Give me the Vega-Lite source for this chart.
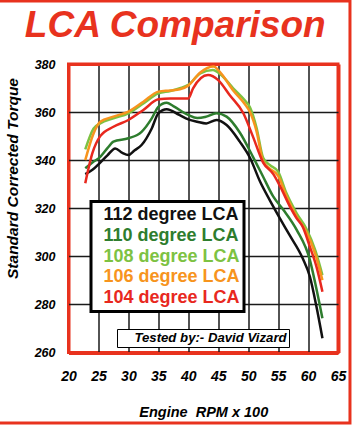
{
  "$schema": "https://vega.github.io/schema/vega-lite/v6.json",
  "width": 269.5,
  "height": 288.5,
  "autosize": "none",
  "padding": {"left": 68.5, "top": 64, "right": 16, "bottom": 72.5},
  "background": "white",
  "title": {
    "text": "LCA Comparison",
    "font": "Liberation Sans",
    "fontSize": 37,
    "fontWeight": "bold",
    "fontStyle": "italic",
    "color": "#e8321e",
    "anchor": "middle",
    "frame": "group",
    "dx": -28,
    "dy": 37,
    "baseline": "alphabetic",
    "offset": -37.5
  },
  "config": {
    "font": "Liberation Sans",
    "view": {"stroke": "#e8321e", "strokeWidth": 3},
    "axisX": {"labelOverlap": false, "labelFlush": false},
    "axisY": {"labelOverlap": false, "labelFlush": false}
  },
  "datasets": {
    "curves": [
      {"lca": "112 degree LCA", "rpm": 22.8, "torque": 334.2},
      {"lca": "112 degree LCA", "rpm": 24, "torque": 336},
      {"lca": "112 degree LCA", "rpm": 25.3, "torque": 339},
      {"lca": "112 degree LCA", "rpm": 26.5, "torque": 342},
      {"lca": "112 degree LCA", "rpm": 27.8, "torque": 344.9},
      {"lca": "112 degree LCA", "rpm": 29, "torque": 343},
      {"lca": "112 degree LCA", "rpm": 30, "torque": 342.1},
      {"lca": "112 degree LCA", "rpm": 31, "torque": 344},
      {"lca": "112 degree LCA", "rpm": 32.2, "torque": 346.3},
      {"lca": "112 degree LCA", "rpm": 33.9, "torque": 353.2},
      {"lca": "112 degree LCA", "rpm": 35, "torque": 359.5},
      {"lca": "112 degree LCA", "rpm": 36.4, "torque": 361.2},
      {"lca": "112 degree LCA", "rpm": 38.5, "torque": 358.8},
      {"lca": "112 degree LCA", "rpm": 40, "torque": 357},
      {"lca": "112 degree LCA", "rpm": 41.5, "torque": 356},
      {"lca": "112 degree LCA", "rpm": 43, "torque": 355.3},
      {"lca": "112 degree LCA", "rpm": 44.7, "torque": 356.7},
      {"lca": "112 degree LCA", "rpm": 46.4, "torque": 354.6},
      {"lca": "112 degree LCA", "rpm": 48.6, "torque": 347.7},
      {"lca": "112 degree LCA", "rpm": 50.3, "torque": 341},
      {"lca": "112 degree LCA", "rpm": 52, "torque": 331},
      {"lca": "112 degree LCA", "rpm": 53.6, "torque": 323.4},
      {"lca": "112 degree LCA", "rpm": 55.3, "torque": 315.8},
      {"lca": "112 degree LCA", "rpm": 56.9, "torque": 308.9},
      {"lca": "112 degree LCA", "rpm": 59.1, "torque": 299.2},
      {"lca": "112 degree LCA", "rpm": 60.3, "torque": 291.6},
      {"lca": "112 degree LCA", "rpm": 61.4, "torque": 279.1},
      {"lca": "112 degree LCA", "rpm": 62.4, "torque": 265.9},

      {"lca": "110 degree LCA", "rpm": 22.8, "torque": 336.6},
      {"lca": "110 degree LCA", "rpm": 24, "torque": 339},
      {"lca": "110 degree LCA", "rpm": 25.3, "torque": 341.4},
      {"lca": "110 degree LCA", "rpm": 26.5, "torque": 345},
      {"lca": "110 degree LCA", "rpm": 27.5, "torque": 347.7},
      {"lca": "110 degree LCA", "rpm": 30, "torque": 349.1},
      {"lca": "110 degree LCA", "rpm": 32.2, "torque": 351.8},
      {"lca": "110 degree LCA", "rpm": 33.9, "torque": 357.4},
      {"lca": "110 degree LCA", "rpm": 35, "torque": 362.2},
      {"lca": "110 degree LCA", "rpm": 36.4, "torque": 363.9},
      {"lca": "110 degree LCA", "rpm": 37.5, "torque": 362.5},
      {"lca": "110 degree LCA", "rpm": 40, "torque": 358.8},
      {"lca": "110 degree LCA", "rpm": 41.5, "torque": 357.5},
      {"lca": "110 degree LCA", "rpm": 43, "torque": 358.1},
      {"lca": "110 degree LCA", "rpm": 44.7, "torque": 359.5},
      {"lca": "110 degree LCA", "rpm": 46.4, "torque": 358.1},
      {"lca": "110 degree LCA", "rpm": 48.6, "torque": 351.5},
      {"lca": "110 degree LCA", "rpm": 50.8, "torque": 341.4},
      {"lca": "110 degree LCA", "rpm": 52.5, "torque": 333.1},
      {"lca": "110 degree LCA", "rpm": 54.2, "torque": 324.8},
      {"lca": "110 degree LCA", "rpm": 55.9, "torque": 319.3},
      {"lca": "110 degree LCA", "rpm": 58.1, "torque": 311},
      {"lca": "110 degree LCA", "rpm": 60.3, "torque": 298.5},
      {"lca": "110 degree LCA", "rpm": 61.2, "torque": 288.8},
      {"lca": "110 degree LCA", "rpm": 62.4, "torque": 274.2},

      {"lca": "108 degree LCA", "rpm": 22.8, "torque": 344.5},
      {"lca": "108 degree LCA", "rpm": 24.2, "torque": 353.2},
      {"lca": "108 degree LCA", "rpm": 25.3, "torque": 355.3},
      {"lca": "108 degree LCA", "rpm": 27.5, "torque": 357.4},
      {"lca": "108 degree LCA", "rpm": 30, "torque": 359.5},
      {"lca": "108 degree LCA", "rpm": 32.5, "torque": 363.6},
      {"lca": "108 degree LCA", "rpm": 35, "torque": 367.8},
      {"lca": "108 degree LCA", "rpm": 37, "torque": 368.8},
      {"lca": "108 degree LCA", "rpm": 38.6, "torque": 369.9},
      {"lca": "108 degree LCA", "rpm": 40, "torque": 371.3},
      {"lca": "108 degree LCA", "rpm": 42, "torque": 376.1},
      {"lca": "108 degree LCA", "rpm": 44.1, "torque": 377.5},
      {"lca": "108 degree LCA", "rpm": 45.5, "torque": 375.4},
      {"lca": "108 degree LCA", "rpm": 47.5, "torque": 369.9},
      {"lca": "108 degree LCA", "rpm": 49.4, "torque": 365},
      {"lca": "108 degree LCA", "rpm": 50.3, "torque": 362},
      {"lca": "108 degree LCA", "rpm": 51.4, "torque": 353.5},
      {"lca": "108 degree LCA", "rpm": 52.5, "torque": 341},
      {"lca": "108 degree LCA", "rpm": 53.6, "torque": 338},
      {"lca": "108 degree LCA", "rpm": 55, "torque": 335.2},
      {"lca": "108 degree LCA", "rpm": 56.4, "torque": 326.2},
      {"lca": "108 degree LCA", "rpm": 58.1, "torque": 317.9},
      {"lca": "108 degree LCA", "rpm": 59.7, "torque": 311.6},
      {"lca": "108 degree LCA", "rpm": 61.2, "torque": 302.6},
      {"lca": "108 degree LCA", "rpm": 62.4, "torque": 292.2},

      {"lca": "106 degree LCA", "rpm": 22.8, "torque": 340},
      {"lca": "106 degree LCA", "rpm": 24.2, "torque": 351.2},
      {"lca": "106 degree LCA", "rpm": 25.3, "torque": 356},
      {"lca": "106 degree LCA", "rpm": 27.5, "torque": 358.1},
      {"lca": "106 degree LCA", "rpm": 30, "torque": 360.2},
      {"lca": "106 degree LCA", "rpm": 32.5, "torque": 364.3},
      {"lca": "106 degree LCA", "rpm": 35, "torque": 368.5},
      {"lca": "106 degree LCA", "rpm": 37, "torque": 369},
      {"lca": "106 degree LCA", "rpm": 38.6, "torque": 369.5},
      {"lca": "106 degree LCA", "rpm": 40, "torque": 371},
      {"lca": "106 degree LCA", "rpm": 42, "torque": 376.5},
      {"lca": "106 degree LCA", "rpm": 44.2, "torque": 379},
      {"lca": "106 degree LCA", "rpm": 45.5, "torque": 376},
      {"lca": "106 degree LCA", "rpm": 47.5, "torque": 369},
      {"lca": "106 degree LCA", "rpm": 49.4, "torque": 363.5},
      {"lca": "106 degree LCA", "rpm": 50.3, "torque": 360},
      {"lca": "106 degree LCA", "rpm": 51.4, "torque": 352},
      {"lca": "106 degree LCA", "rpm": 52.5, "torque": 339.5},
      {"lca": "106 degree LCA", "rpm": 53.6, "torque": 336.5},
      {"lca": "106 degree LCA", "rpm": 55, "torque": 333.5},
      {"lca": "106 degree LCA", "rpm": 56.4, "torque": 325},
      {"lca": "106 degree LCA", "rpm": 58.1, "torque": 316.5},
      {"lca": "106 degree LCA", "rpm": 59.7, "torque": 310.2},
      {"lca": "106 degree LCA", "rpm": 61.2, "torque": 301},
      {"lca": "106 degree LCA", "rpm": 62.4, "torque": 290.1},

      {"lca": "104 degree LCA", "rpm": 22.8, "torque": 330.4},
      {"lca": "104 degree LCA", "rpm": 24, "torque": 343},
      {"lca": "104 degree LCA", "rpm": 25.3, "torque": 350},
      {"lca": "104 degree LCA", "rpm": 27.5, "torque": 353.9},
      {"lca": "104 degree LCA", "rpm": 30, "torque": 356.7},
      {"lca": "104 degree LCA", "rpm": 32.5, "torque": 360.9},
      {"lca": "104 degree LCA", "rpm": 35, "torque": 365.3},
      {"lca": "104 degree LCA", "rpm": 37, "torque": 365.7},
      {"lca": "104 degree LCA", "rpm": 40, "torque": 365.7},
      {"lca": "104 degree LCA", "rpm": 40.8, "torque": 369.9},
      {"lca": "104 degree LCA", "rpm": 43.3, "torque": 375.4},
      {"lca": "104 degree LCA", "rpm": 45, "torque": 373.3},
      {"lca": "104 degree LCA", "rpm": 46.9, "torque": 367.1},
      {"lca": "104 degree LCA", "rpm": 49.2, "torque": 359.5},
      {"lca": "104 degree LCA", "rpm": 50.8, "torque": 349.8},
      {"lca": "104 degree LCA", "rpm": 52.5, "torque": 339},
      {"lca": "104 degree LCA", "rpm": 54.2, "torque": 334.2},
      {"lca": "104 degree LCA", "rpm": 55.3, "torque": 329.3},
      {"lca": "104 degree LCA", "rpm": 57, "torque": 320.6},
      {"lca": "104 degree LCA", "rpm": 58.1, "torque": 315.8},
      {"lca": "104 degree LCA", "rpm": 59.1, "torque": 312.3},
      {"lca": "104 degree LCA", "rpm": 60.3, "torque": 304},
      {"lca": "104 degree LCA", "rpm": 61.4, "torque": 295.7},
      {"lca": "104 degree LCA", "rpm": 62.4, "torque": 285.3}
    ],
    "note": [{"note": "Tested by:- David Vizard"}]
  },
  "layer": [
    {
      "data": {"name": "curves"},
      "mark": {"type": "line", "strokeWidth": 2.5, "interpolate": "monotone"},
      "encoding": {
        "x": {
          "field": "rpm",
          "type": "quantitative",
          "scale": {"domain": [20, 65], "nice": false, "zero": false},
          "axis": {
            "title": "Engine\u00a0 RPM x 100",
            "values": [20, 25, 30, 35, 40, 45, 50, 55, 60, 65],
            "tickCount": 10,
            "grid": true,
            "gridColor": {"condition": {"test": "datum.value == 20 || datum.value == 65", "value": "#e8321e"}, "value": "#1a1a1a"},
            "gridWidth": {"condition": {"test": "datum.value == 20 || datum.value == 65", "value": 3}, "value": 1.5},
            "gridOpacity": 1,
            "domain": false,
            "ticks": false,
            "tickSize": 0,
            "labelFlush": false,
            "labelOverlap": false,
            "labelPadding": 17,
            "labelFontSize": 14,
            "labelFontWeight": "bold",
            "labelFontStyle": "italic",
            "labelColor": "black",
            "titleFontSize": 14.5,
            "titleFontWeight": "bold",
            "titleFontStyle": "italic",
            "titleColor": "black",
            "titleBaseline": "alphabetic",
            "titleY": 64
          }
        },
        "y": {
          "field": "torque",
          "type": "quantitative",
          "scale": {"domain": [260, 380], "nice": false, "zero": false},
          "axis": {
            "title": "Standard Corrected Torque",
            "values": [260, 280, 300, 320, 340, 360, 380],
            "grid": true,
            "gridColor": {"condition": {"test": "datum.value == 260 || datum.value == 380", "value": "#e8321e"}, "value": "#1a1a1a"},
            "gridWidth": {"condition": {"test": "datum.value == 260 || datum.value == 380", "value": 3}, "value": 1.5},
            "gridOpacity": 1,
            "domain": false,
            "ticks": false,
            "tickSize": 0,
            "labelFlush": false,
            "labelOverlap": false,
            "labelPadding": 13.5,
            "labelFontSize": 12.5,
            "labelFontWeight": "bold",
            "labelFontStyle": "italic",
            "labelColor": "black",
            "titleFontSize": 15.5,
            "titleFontWeight": "bold",
            "titleFontStyle": "italic",
            "titleColor": "black",
            "titleAngle": -90,
            "titleAlign": "center",
            "titleBaseline": "bottom",
            "titleX": -48.5,
            "titleY": 114
          }
        },
        "color": {
          "field": "lca",
          "type": "nominal",
          "scale": {
            "domain": ["112 degree LCA", "110 degree LCA", "108 degree LCA", "106 degree LCA", "104 degree LCA"],
            "range": ["#111111", "#2e7d2e", "#7dc242", "#f7941d", "#e8281e"]
          },
          "legend": {
            "orient": "none",
            "legendX": 22.5,
            "legendY": 137.5,
            "title": null,
            "fillColor": "white",
            "strokeColor": "black",
            "cornerRadius": 0,
            "padding": 4.4,
            "rowPadding": 2.8,
            "labelFont": "Liberation Sans",
            "labelFontSize": 18,
            "labelFontWeight": "bold",
            "labelLimit": 400,
            "labelOffset": -10,
            "symbolType": "circle",
            "symbolSize": 0,
            "symbolOpacity": 0,
            "symbolStrokeWidth": 0,
            "labelExpr": "datum.label + '\u00a0\u00a0\u00a0\u00a0\u00a0\u00a0\u00a0\u00a0'",
            "encode": {
              "legend": {"update": {"strokeWidth": {"value": 3}}},
              "labels": {"update": {"fill": {"scale": "color", "field": "value"}}}
            }
          }
        }
      }
    },
    {
      "data": {"name": "note"},
      "mark": {"type": "point", "opacity": 0},
      "encoding": {
        "shape": {
          "field": "note",
          "type": "nominal",
          "legend": {
            "orient": "none",
            "legendX": 48.5,
            "legendY": 265,
            "title": null,
            "fillColor": "white",
            "strokeColor": "black",
            "cornerRadius": 0,
            "padding": 2.2,
            "labelFont": "Liberation Sans",
            "labelFontSize": 13.2,
            "labelFontWeight": "bold",
            "labelFontStyle": "italic",
            "labelColor": "black",
            "labelLimit": 400,
            "labelOffset": 2,
            "symbolSize": 0,
            "symbolOpacity": 0,
            "symbolStrokeWidth": 0,
            "encode": {
              "legend": {"update": {"strokeWidth": {"value": 2}}}
            }
          }
        }
      }
    },
    {
      "data": {"values": [{}]},
      "mark": {"type": "rect", "fill": "transparent", "stroke": "#e8321e", "strokeWidth": 3},
      "encoding": {
        "x": {
          "datum": 8,
          "type": "quantitative",
          "scale": {"domain": [20, 65], "nice": false, "zero": false},
          "axis": {
            "title": "Engine\u00a0 RPM x 100",
            "values": [20, 25, 30, 35, 40, 45, 50, 55, 60, 65],
            "tickCount": 10,
            "grid": true,
            "gridColor": {"condition": {"test": "datum.value == 20 || datum.value == 65", "value": "#e8321e"}, "value": "#1a1a1a"},
            "gridWidth": {"condition": {"test": "datum.value == 20 || datum.value == 65", "value": 3}, "value": 1.5},
            "gridOpacity": 1,
            "domain": false,
            "ticks": false,
            "tickSize": 0,
            "labelFlush": false,
            "labelOverlap": false,
            "labelPadding": 17,
            "labelFontSize": 14,
            "labelFontWeight": "bold",
            "labelFontStyle": "italic",
            "labelColor": "black",
            "titleFontSize": 14.5,
            "titleFontWeight": "bold",
            "titleFontStyle": "italic",
            "titleColor": "black",
            "titleBaseline": "alphabetic",
            "titleY": 64
          }
        },
        "x2": {"datum": 67},
        "y": {
          "datum": 406.2,
          "type": "quantitative",
          "scale": {"domain": [260, 380], "nice": false, "zero": false}
        },
        "y2": {"datum": 230.7}
      }
    }
  ]
}
